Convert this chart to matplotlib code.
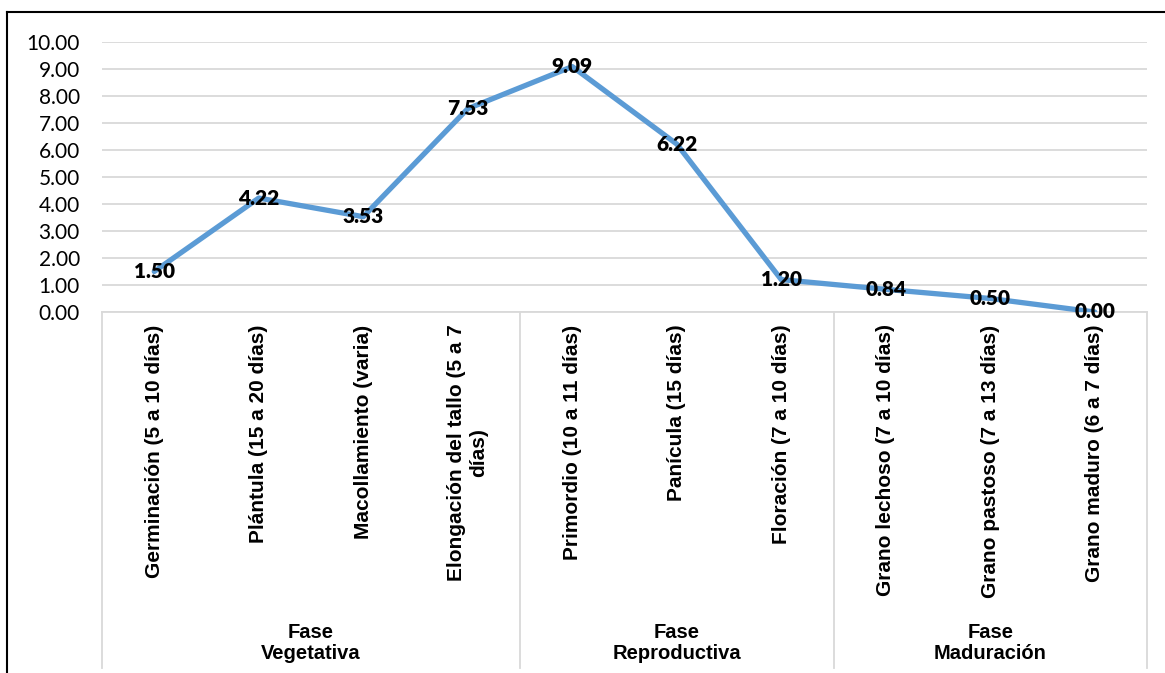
import matplotlib
matplotlib.use("Agg")
import matplotlib.pyplot as plt
from matplotlib.lines import Line2D
from matplotlib.transforms import blended_transform_factory

etapas = [
    "Germinación (5 a 10 días)",
    "Plántula (15 a 20 días)",
    "Macollamiento (varia)",
    "Elongación del tallo (5 a 7\ndías)",
    "Primordio (10 a 11 días)",
    "Panícula (15 días)",
    "Floración (7 a 10 días)",
    "Grano lechoso (7 a 10 días)",
    "Grano pastoso (7 a 13 días)",
    "Grano maduro (6 a 7 días)",
]
valores = [1.50, 4.22, 3.53, 7.53, 9.09, 6.22, 1.20, 0.84, 0.50, 0.00]
fases = ["Fase\nVegetativa", "Fase\nReproductiva", "Fase\nMaduración"]
etapas_por_fase = [4, 3, 3]

W, H = 1165, 673
fig = plt.figure(figsize=(W / 100, H / 100), dpi=100)
ax = fig.add_axes([102 / W, 1 - 312 / H, 1045 / W, 270 / H])

x = list(range(len(valores)))
ax.plot(x, valores, color="#5B9BD5", lw=3.8, solid_capstyle="round", zorder=3)
for xi, v in zip(x, valores):
    ax.text(xi, v, f"{v:.2f}", ha="center", va="center", fontsize=15,
            fontweight="heavy", family="Lato", zorder=4)

ax.set_xlim(-0.5, len(valores) - 0.5)
ax.set_ylim(0, 10)
ax.set_yticks(range(0, 11))
ax.set_yticklabels([f"{t:.2f}" for t in range(0, 11)], family="Lato", fontsize=15)
ax.yaxis.grid(True, color="#D9D9D9", lw=1.3)
ax.set_axisbelow(True)
ax.tick_params(axis="y", length=0, pad=16)

ax.set_xticks(x)
ax.set_xticklabels(etapas, rotation=90, fontsize=15, fontweight="bold",
                   family="Liberation Sans", multialignment="center")
ax.tick_params(axis="x", length=0, pad=9)

for s in ["top", "right", "left"]:
    ax.spines[s].set_visible(False)
ax.spines["bottom"].set_color("#D9D9D9")
ax.spines["bottom"].set_linewidth(1.3)

# category box: vertical separators between the phases
trans = blended_transform_factory(ax.transData, fig.transFigure)
y_top, y_bot = 1 - 312 / H, 1 - 668 / H
bordes = [-0.5]
for n in etapas_por_fase:
    bordes.append(bordes[-1] + n)
for b in bordes:
    fig.add_artist(Line2D([b, b], [y_top, y_bot], color="#D9D9D9", lw=1.3,
                          transform=trans))

for i, fase in enumerate(fases):
    xc = (bordes[i] + bordes[i + 1]) / 2
    fig.text(xc, 1 - 643 / H, fase, transform=trans, ha="center", va="center",
             fontsize=14.5, fontweight="bold", family="Liberation Sans",
             linespacing=1.15)

# outer frame
fig.add_artist(Line2D([7 / W, 7 / W], [1 - 12 / H, 0], color="black", lw=1.5))
fig.add_artist(Line2D([7 / W, 1], [1 - 12 / H, 1 - 12 / H], color="black", lw=1.5))

fig.savefig("out.png", dpi=100)
